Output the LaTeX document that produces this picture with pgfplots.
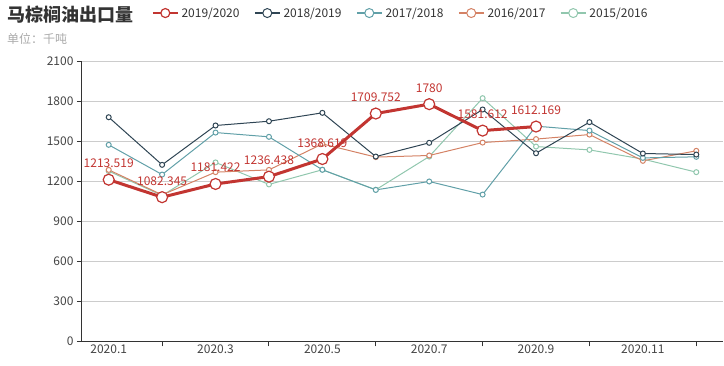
\documentclass[border=0pt]{standalone}
\usepackage{fontspec}
\setmainfont{Noto Sans CJK SC}
\usepackage{pgfplots}
\pgfplotsset{compat=1.18}
\definecolor{c1}{HTML}{C23531}
\definecolor{c2}{HTML}{2F4554}
\definecolor{c3}{HTML}{61A0A8}
\definecolor{c4}{HTML}{D48265}
\definecolor{c5}{HTML}{91C7AE}
\definecolor{axisc}{HTML}{333333}
\definecolor{gridc}{HTML}{CCCCCC}
\definecolor{tickc}{HTML}{444444}
\definecolor{subc}{HTML}{AAAAAA}
\begin{document}
\begin{tikzpicture}
\begin{axis}[
  at={(82pt,24.5pt)}, anchor=south west,
  scale only axis, width=641pt, height=280pt,
  xmin=0.5, xmax=12.5, ymin=0, ymax=2100,
  axis x line*=bottom, axis y line*=left,
  axis line style={color=axisc, line width=1pt},
  tick align=outside, major tick length=5pt,
  tick style={color=axisc, line width=1pt},
  ytick={0,300,...,2100},
  ymajorgrids, grid style={color=gridc, line width=0.8pt},
  xtick={2,4,6,8,10,12},
  xticklabels={,,,,,},
  extra x ticks={1,3,5,7,9,11},
  extra x tick labels={2020.1,2020.3,2020.5,2020.7,2020.9,2020.11},
  extra x tick style={major tick length=0pt},
  ticklabel style={font=\fontsize{12}{14}\selectfont, color=tickc},
  /pgf/number format/assume math mode=true,
  /pgf/number format/1000 sep={},
  reverse legend,
  legend columns=-1,
  legend style={at={(0.109,1.173)}, anchor=west, draw=none, fill=none,
    inner sep=0pt, font=\fontsize{12}{14}\selectfont, text=axisc,
    /tikz/every even column/.append style={column sep=12.5pt},
    /tikz/every odd column/.append style={column sep=1pt}},
  legend image code/.code={\draw[#1, line width=1.5pt, mark size=4.5pt, mark repeat=2, mark phase=2] plot coordinates {(0pt,0pt) (12.5pt,0pt) (25pt,0pt)};},
]
\addplot[c5, line width=1pt, mark=*, mark size=2.5pt, mark options={fill=white, draw=c5, line width=1pt}]
  coordinates {(1,1278)(2,1095)(3,1343)(4,1178)(5,1288)(6,1138)(7,1387)(8,1825)(9,1462)(10,1437)(11,1368)(12,1270)};
\addlegendentry{2015/2016}
\addplot[c4, line width=1pt, mark=*, mark size=2.5pt, mark options={fill=white, draw=c4, line width=1pt}]
  coordinates {(1,1287)(2,1100)(3,1270)(4,1287)(5,1482)(6,1383)(7,1395)(8,1492)(9,1518)(10,1552)(11,1355)(12,1430)};
\addlegendentry{2016/2017}
\addplot[c3, line width=1pt, mark=*, mark size=2.5pt, mark options={fill=white, draw=c3, line width=1pt}]
  coordinates {(1,1475)(2,1252)(3,1567)(4,1535)(5,1288)(6,1137)(7,1200)(8,1102)(9,1615)(10,1582)(11,1377)(12,1385)};
\addlegendentry{2017/2018}
\addplot[c2, line width=1pt, mark=*, mark size=2.5pt, mark options={fill=white, draw=c2, line width=1pt}]
  coordinates {(1,1682)(2,1325)(3,1620)(4,1652)(5,1715)(6,1387)(7,1490)(8,1740)(9,1412)(10,1645)(11,1410)(12,1402)};
\addlegendentry{2018/2019}
\addplot[c1, line width=3pt, mark=*, mark size=5.5pt, mark options={fill=white, draw=c1, line width=1.2pt},
  point meta=explicit symbolic, nodes near coords,
  every node near coord/.append style={font=\fontsize{12}{14}\selectfont, color=c1, anchor=base, inner sep=0pt, yshift=12pt}]
  coordinates {(1,1213.519)[1213.519] (2,1082.345)[1082.345] (3,1181.422)[1181.422] (4,1236.438)[1236.438] (5,1368.619)[1368.619] (6,1709.752)[1709.752] (7,1780)[1780] (8,1581.612)[1581.612] (9,1612.169)[1612.169]};
\addlegendentry{2019/2020}
\end{axis}
\node[anchor=west, inner sep=0pt, font=\fontsize{18}{20}\selectfont\bfseries, text=axisc] at (7pt,351pt) {马棕榈油出口量};
\node[anchor=west, inner sep=0pt, font=\fontsize{12}{14}\selectfont, text=subc] at (7pt,327pt) {单位：千吨};
\pgfresetboundingbox
\useasboundingbox (0pt,0pt) rectangle (724pt,366pt);
\end{tikzpicture}
\end{document}
